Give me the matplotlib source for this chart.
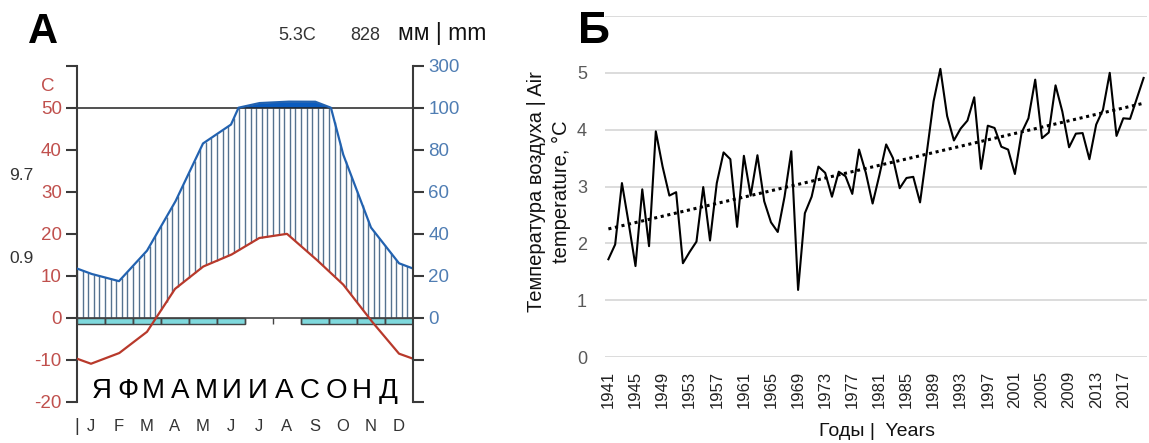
import numpy as np
import matplotlib
matplotlib.use("Agg")
from matplotlib import pyplot as plt
from matplotlib.patches import Rectangle

plt.rcParams['font.family'] = ['Liberation Sans', 'DejaVu Sans']

# Panel A: Walter-Lieth climate diagram
MONTHS_EN = ['J', 'F', 'M', 'A', 'M', 'J', 'J', 'A', 'S', 'O', 'N', 'D']
MONTHS_RU = ['Я', 'Ф', 'М', 'А', 'М', 'И', 'И', 'А', 'С', 'О', 'Н', 'Д']
TEMP_C = [-10.9, -8.4, -3.3, 6.9, 12.2, 15.0, 19.0, 20.0, 14.2, 8.0, -0.6, -8.5]
PRECIP_MM = [21, 17.5, 32, 55, 83, 92, 122, 129, 129, 78, 43, 26]
FROST_MONTHS = [1, 1, 1, 1, 1, 1, 0, 0, 1, 1, 1, 1]
MEAN_TEMP = '5.3C'
ANNUAL_PRECIP = '828'
MAX_WARM = '9.7'
MIN_COLD = '0.9'
TEMP_TICKS = [-20, -10, 0, 10, 20, 30, 40, 50, 60]
PRECIP_TICKS = [0, 20, 40, 60, 80, 100, 300]

# Panel B: mean annual air temperature
YEARS = list(range(1941, 2021))
AIR_TEMP = [1.72, 1.98, 3.06, 2.35, 1.60, 2.95, 1.95, 3.97, 3.35, 2.84,
            2.90, 1.65, 1.85, 2.03, 2.99, 2.05, 3.06, 3.60, 3.48, 2.29,
            3.54, 2.84, 3.55, 2.74, 2.37, 2.20, 2.82, 3.62, 1.18, 2.53,
            2.82, 3.35, 3.24, 2.82, 3.26, 3.18, 2.87, 3.65, 3.24, 2.70,
            3.20, 3.74, 3.50, 2.97, 3.15, 3.17, 2.72, 3.60, 4.50, 5.07,
            4.24, 3.81, 4.02, 4.16, 4.57, 3.31, 4.07, 4.03, 3.70, 3.65,
            3.22, 3.95, 4.20, 4.88, 3.85, 3.95, 4.78, 4.32, 3.69, 3.93,
            3.94, 3.48, 4.09, 4.35, 5.00, 3.89, 4.20, 4.19, 4.55, 4.91]

W, H = 1149, 443

TEMP_COL = '#b8392b'
PREC_COL = '#2262b0'
AXIS_COL = '#3a3a3a'


def p_scale(p):
    p = np.asarray(p, dtype=float)
    return np.where(p <= 100, p / 2.0, 50 + (p - 100) / 20.0)


def fig_xy(x, y):
    return x / W, 1 - y / H


fig = plt.figure(figsize=(W / 100, H / 100), dpi=100)

# ---------------- panel A ----------------
ax = fig.add_axes([77 / W, 1 - 402 / H, 336 / W, 336.3 / H])

x_pts = np.concatenate([[0], np.arange(12) + 0.5, [12]])
t_edge = (TEMP_C[0] + TEMP_C[-1]) / 2
p_edge = (PRECIP_MM[0] + PRECIP_MM[-1]) / 2
t_pts = np.array([t_edge] + TEMP_C + [t_edge])
p_pts = np.array([p_edge] + PRECIP_MM + [p_edge])

xf = np.linspace(0, 12, 1201)
tf = np.interp(xf, x_pts, t_pts)
pf = p_scale(np.interp(xf, x_pts, p_pts))

# humid period hatching
xh = np.arange(0, 12.001, 0.2)
lo = np.maximum(np.interp(xh, x_pts, t_pts), 0)
hi = np.minimum(p_scale(np.interp(xh, x_pts, p_pts)), 50)
keep = hi > lo
ax.vlines(xh[keep], lo[keep], hi[keep], color='#55728f', lw=1.0, zorder=1)

# very wet (>100 mm) part
ax.fill_between(xf, 50, pf, where=pf > 50, color='#0b5cbf', lw=0, zorder=2)

ax.axhline(50, color='#222222', lw=1.1, zorder=2)
ax.axhline(0, color='#444444', lw=1.2, zorder=2)

for i, f in enumerate(FROST_MONTHS):
    if f:
        ax.add_patch(Rectangle((i, -1.5), 1, 1.5, facecolor='#7fd9dd',
                               edgecolor='#444444', lw=1.0, zorder=3))
ax.vlines(np.arange(1, 12), -1.5, 0, color='#444444', lw=1.0, zorder=3)

ax.plot(xf, pf, color=PREC_COL, lw=1.6, zorder=4)
ax.plot(xf, tf, color=TEMP_COL, lw=1.6, zorder=5)

ax.set_xlim(0, 12)
ax.set_ylim(-20, 60)
ax.set_xticks([])
ax.set_yticks(TEMP_TICKS)
ax.set_yticklabels([str(v) for v in TEMP_TICKS[:-1]] + [''])
for s in ['top', 'bottom', 'right']:
    ax.spines[s].set_visible(False)
ax.spines['left'].set_color(AXIS_COL)
ax.spines['left'].set_linewidth(1.5)
ax.tick_params(axis='y', direction='out', length=8, width=1.5, color=AXIS_COL,
               labelcolor='#c0504d', labelsize=13.5, pad=3)

twin = ax.twinx()
twin.set_ylim(-20, 60)
twin.set_yticks(TEMP_TICKS)
twin.set_yticklabels(['', ''] + [str(v) for v in PRECIP_TICKS])
for s in ['top', 'bottom', 'left']:
    twin.spines[s].set_visible(False)
twin.spines['right'].set_color(AXIS_COL)
twin.spines['right'].set_linewidth(1.5)
twin.tick_params(axis='y', direction='out', length=8, width=1.5, color=AXIS_COL,
                 labelcolor='#4f7db3', labelsize=13.5, pad=3)

ax.text(-1.04, 55, 'C', ha='center', va='center', color='#c0504d',
        fontsize=13.5, clip_on=False)
ax.text(-1.98, 33.8, MAX_WARM, ha='center', va='center', color='#333333',
        fontsize=12.5, clip_on=False)
ax.text(-1.98, 14.2, MIN_COLD, ha='center', va='center', color='#333333',
        fontsize=12.5, clip_on=False)

for i, m in enumerate(MONTHS_RU):
    ax.text(0.88 + 0.93 * i, -19, m, ha='center', va='baseline',
            color='black', fontsize=20, zorder=6)

ax.text(0, -25.8, '|', ha='center', va='center', color='#333333',
        fontsize=13, clip_on=False)
for i, m in enumerate(MONTHS_EN):
    ax.text(i + 0.5, -25.8, m, ha='center', va='center', color='#333333',
            fontsize=12, clip_on=False)

fig.text(*fig_xy(28, 43), 'А', ha='left', va='baseline', fontsize=30,
         fontweight='bold')
fig.text(*fig_xy(278, 40), MEAN_TEMP, ha='left', va='baseline',
         fontsize=13, color='#333333')
fig.text(*fig_xy(350, 40), ANNUAL_PRECIP, ha='left', va='baseline',
         fontsize=13, color='#333333')
fig.text(*fig_xy(398, 40), 'мм | mm', ha='left', va='baseline',
         fontsize=16.5, color='#111111')

# ---------------- panel B ----------------
ax2 = fig.add_axes([605 / W, 1 - 357 / H, 542 / W, 341 / H])
x = np.arange(len(YEARS))
for g in range(0, 7):
    ax2.axhline(g, color='#d9d9d9', lw=1.3, zorder=0)
ax2.plot(x, AIR_TEMP, color='black', lw=1.5, zorder=3)
coef = np.polyfit(x, AIR_TEMP, 1)
ax2.plot(x, np.polyval(coef, x), color='black', lw=2.2,
         ls=(0, (1, 1.2)), zorder=2)

ax2.set_xlim(-0.5, len(YEARS) - 0.5)
ax2.set_ylim(0, 6)
ax2.set_yticks(range(0, 7))
ax2.set_yticklabels([str(v) for v in range(0, 6)] + [''])
ax2.set_xticks(x[::4])
ax2.set_xticklabels([str(y) for y in YEARS[::4]], rotation=90)
for s in ax2.spines.values():
    s.set_visible(False)
ax2.tick_params(axis='y', length=0, labelsize=13, labelcolor='#595959', pad=13)
ax2.tick_params(axis='x', length=0, labelsize=12, labelcolor='#222222', pad=10)

fig.text(*fig_xy(549, 192), 'Температура воздуха | Air\ntemperature, °C',
         rotation=90, ha='center', va='center', rotation_mode='anchor',
         fontsize=14.5, linespacing=1.4, color='#111111')
fig.text(*fig_xy(877, 431), 'Годы |  Years', ha='center', va='center',
         fontsize=14, color='#111111')
fig.text(*fig_xy(578, 43), 'Б', ha='left', va='baseline', fontsize=32,
         fontweight='bold')

fig.savefig('out.png', dpi=100)
